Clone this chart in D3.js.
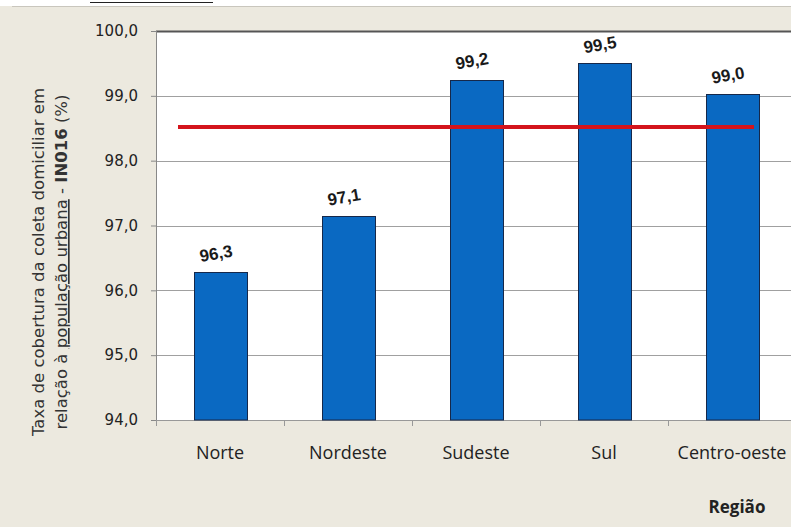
<!DOCTYPE html>
<html>
<head>
<meta charset="utf-8">
<script src="https://cdn.jsdelivr.net/npm/d3@7"></script>
<style>
  body { margin: 0; background: #ece9df; }
  svg { display: block; }
</style>
</head>
<body>
<div id="chart"></div>
<script>
// data
var regions = ["Norte", "Nordeste", "Sudeste", "Sul", "Centro-oeste"];
var taxa = [96.3, 97.1, 99.2, 99.5, 99.0];
var barTop = [96.28, 97.15, 99.25, 99.5, 99.03];   // bar heights
var media = 98.52;                                  // red reference line
var yTicks = [94, 95, 96, 97, 98, 99, 100];

var W = 791, H = 527;
var margin = {top: 31, right: -5, bottom: 107, left: 156},
    width = W - margin.left - margin.right,
    height = H - margin.top - margin.bottom;

var svg = d3.select("#chart").append("svg")
    .attr("width", W)
    .attr("height", H);

svg.append("rect").attr("width", W).attr("height", H).attr("fill", "#ece9df");
// cropped strip at the top of the original screenshot
svg.append("rect").attr("width", W).attr("height", 6).attr("fill", "#ffffff");
svg.append("line").attr("x1", 12).attr("x2", W).attr("y1", 6.5).attr("y2", 6.5)
    .attr("stroke", "#c9c6bd");
svg.append("line").attr("x1", 90).attr("x2", 213).attr("y1", 2.5).attr("y2", 2.5)
    .attr("stroke", "#222");

var g = svg.append("g")
    .attr("transform", "translate(" + margin.left + "," + margin.top + ")");

var x = d3.scaleBand().domain(regions).range([0, width]).paddingInner(0).paddingOuter(0);
var y = d3.scaleLinear().domain([94, 100]).range([height, 0]);

// plot area
g.append("rect").attr("width", width).attr("height", height).attr("fill", "#ffffff");

// gridlines
g.selectAll(".grid").data(yTicks.slice(1))
  .enter().append("line")
    .attr("x1", 0).attr("x2", width)
    .attr("y1", function(d){ return Math.round(y(d)) + 0.5; })
    .attr("y2", function(d){ return Math.round(y(d)) + 0.5; })
    .attr("stroke", function(d){ return d == 100 ? "#555" : "#a0a0a0"; })
    .attr("stroke-width", function(d){ return d == 100 ? 2 : 1; });

// y axis
var yAxis = g.append("g")
    .call(d3.axisLeft(y).tickValues(yTicks).tickSize(5).tickPadding(13)
      .tickFormat(function(d){ return d3.format(".1f")(d).replace(".", ","); }));
yAxis.select(".domain").attr("stroke", "#888").attr("d", "M0.5,0V" + height);
yAxis.selectAll(".tick line").attr("stroke", "#888").attr("x1", 0.5);
yAxis.selectAll("text")
    .style("font-family", "'DejaVu Sans', Verdana, sans-serif")
    .style("font-size", "15px")
    .attr("fill", "#222");

// x axis
var xAxis = g.append("g")
    .attr("transform", "translate(0," + height + ")")
    .call(d3.axisBottom(x).tickSize(0).tickPadding(26));
xAxis.select(".domain").attr("stroke", "#999").attr("d", "M0,0.5H" + width);
xAxis.selectAll("text")
    .style("font-family", "'Open Sans', 'Noto Sans', sans-serif")
    .style("font-size", "18px")
    .attr("fill", "#222");
// category separators
g.selectAll(".sep").data(regions)
  .enter().append("line")
    .attr("x1", function(d){ return Math.round(x(d)) + 0.5; })
    .attr("x2", function(d){ return Math.round(x(d)) + 0.5; })
    .attr("y1", height).attr("y2", height + 6)
    .attr("stroke", "#999");

// bars
var bw = 53;
g.selectAll(".bar").data(regions)
  .enter().append("rect")
    .attr("class", "bar")
    .attr("x", function(d){ return Math.round(x(d) + x.bandwidth()/2 - bw/2) + 0.5; })
    .attr("y", function(d, i){ return Math.round(y(barTop[i])) + 0.5; })
    .attr("width", bw)
    .attr("height", function(d, i){ return height - Math.round(y(barTop[i])) - 0.5; })
    .attr("fill", "#0a69c2")
    .attr("stroke", "#16284a")
    .attr("stroke-width", 1);

// reference line
g.append("line")
    .attr("x1", x("Norte") + 22)
    .attr("x2", x("Centro-oeste") + x.bandwidth()/2 + 22)
    .attr("y1", y(media)).attr("y2", y(media))
    .attr("stroke", "#d4141c")
    .attr("stroke-width", 4);

// value labels
g.selectAll(".lbl").data(regions)
  .enter().append("text")
    .attr("transform", function(d, i){
      return "translate(" + (x(d) + x.bandwidth()/2 - 3) + "," + (y(barTop[i]) - 13) + ") rotate(-10)";
    })
    .attr("text-anchor", "middle")
    .style("font-family", "'Liberation Sans', Arial, sans-serif")
    .style("font-size", "17px")
    .style("font-weight", "bold")
    .attr("fill", "#1a1a1a")
    .text(function(d, i){ return d3.format(".1f")(taxa[i]).replace(".", ","); });

// y axis title
var yt = svg.append("text")
    .attr("transform", "translate(44,262) rotate(-90)")
    .attr("text-anchor", "middle")
    .style("font-family", "'DejaVu Sans', Verdana, sans-serif")
    .style("font-size", "16.5px")
    .attr("fill", "#333");
yt.append("tspan").attr("x", 0).attr("dy", 0).text("Taxa de cobertura da coleta domiciliar  em");
var t2 = svg.append("text")
    .attr("transform", "translate(67,262) rotate(-90)")
    .attr("text-anchor", "middle")
    .style("font-family", "'DejaVu Sans', Verdana, sans-serif")
    .style("font-size", "16.5px")
    .attr("fill", "#333");
t2.append("tspan").text("relação à ");
t2.append("tspan").style("text-decoration", "underline").text("população urbana");
t2.append("tspan").text(" - ");
t2.append("tspan").style("font-weight", "bold").text("IN016");
t2.append("tspan").text("  (%)");

// x axis title
svg.append("text")
    .attr("x", 737).attr("y", 513)
    .attr("text-anchor", "middle")
    .style("font-family", "'Open Sans', 'Noto Sans', sans-serif")
    .style("font-size", "17px")
    .style("font-weight", "bold")
    .attr("fill", "#222")
    .text("Região");
</script>
</body>
</html>
